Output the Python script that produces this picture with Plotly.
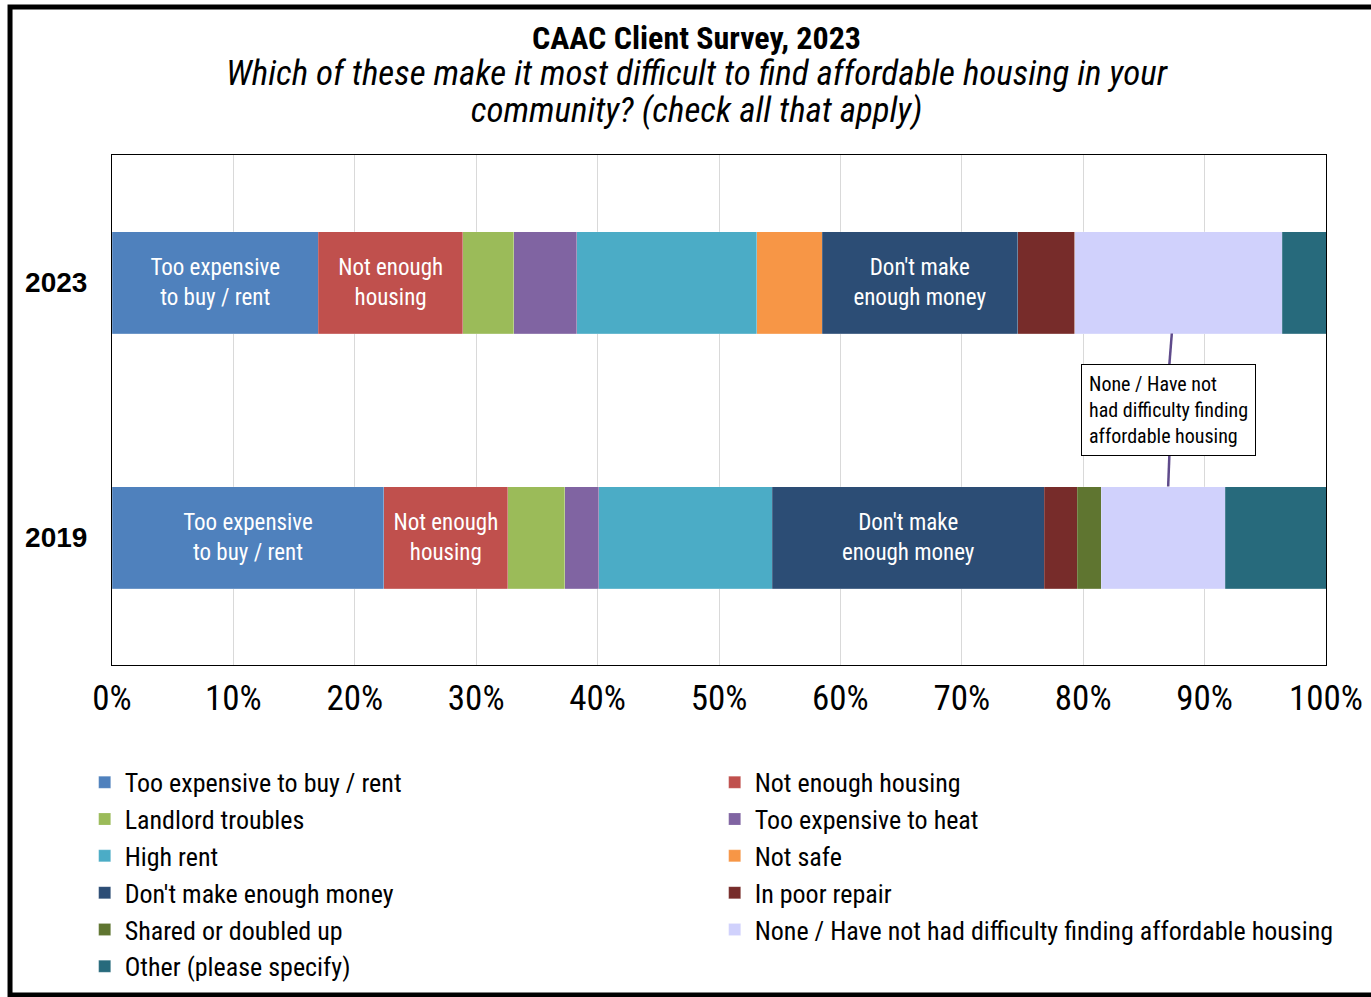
import plotly.graph_objects as go

years = ["2019", "2023"]
categories = [
    "Too expensive to buy / rent",
    "Not enough housing",
    "Landlord troubles",
    "Too expensive to heat",
    "High rent",
    "Not safe",
    "Don't make enough money",
    "In poor repair",
    "Shared or doubled up",
    "None / Have not had difficulty finding affordable housing",
    "Other (please specify)",
]
values_2019 = [22.4, 10.2, 4.7, 2.8, 14.3, 0.0, 22.4, 2.7, 2.0, 10.2, 8.3]
values_2023 = [17.0, 11.9, 4.2, 5.2, 14.8, 5.4, 16.1, 4.7, 0.0, 17.1, 3.6]
bar_labels = {
    "Too expensive to buy / rent": "Too expensive<br>to buy / rent",
    "Not enough housing": "Not enough<br>housing",
    "Don't make enough money": "Don't make<br>enough money",
}
colors = ["#4F81BD", "#C0504D", "#9BBB59", "#8064A2", "#4BACC6", "#F79646",
          "#2C4D75", "#772C2A", "#5F7530", "#D0D1FC", "#276A7C"]

title_main = "CAAC Client Survey, 2023"
title_sub = ["Which of these make it most difficult to find affordable housing in your",
             "community? (check all that apply)"]
callout_text = "None / Have not<br>had difficulty finding<br>affordable housing"

FONT = "Roboto Condensed, Liberation Sans Narrow, Arial Narrow, sans-serif"

fig = go.Figure()
for i, cat in enumerate(categories):
    lab = bar_labels.get(cat, "")
    fig.add_trace(go.Bar(
        name=cat,
        y=years,
        x=[values_2019[i], values_2023[i]],
        orientation="h",
        marker=dict(color=colors[i], line=dict(color="rgba(255,255,255,0.35)", width=0.5)),
        text=[lab, lab],
        textposition="inside",
        insidetextanchor="middle",
        constraintext="none",
        textfont=dict(color="white", size=23, family=FONT),
        hoverinfo="name+x",
    ))

# title block (one annotation, three lines)
title_html = ("<b><span style='font-size:32px'>" + title_main + "</span></b><br>"
              "<span style='font-size:35px'><i>" + title_sub[0] + "</i></span><br>"
              "<span style='font-size:35px'><i>" + title_sub[1] + "</i></span>")
fig.add_annotation(xref="paper", yref="paper", x=0.482, y=1.157, showarrow=False,
                   xanchor="center", yanchor="middle", align="center",
                   text=title_html,
                   font=dict(family=FONT, size=28, color="black"))

# callout for "None" segment
callout_x = 87.0
fig.add_annotation(
    x=callout_x, y=0.5, xref="x", yref="y",
    text=callout_text,
    showarrow=False, align="left",
    font=dict(family=FONT, size=20, color="black"),
    bgcolor="white", bordercolor="black", borderwidth=1, borderpad=7,
)
fig.add_shape(type="line", xref="x", yref="y", x0=callout_x + 0.1, x1=callout_x + 0.3,
              y0=0.68, y1=0.8, line=dict(color="#5F4B8B", width=2.5))
fig.add_shape(type="line", xref="x", yref="y", x0=callout_x, x1=callout_x + 0.1,
              y0=0.2, y1=0.325, line=dict(color="#5F4B8B", width=2.5))

# outer frame
fig.add_shape(type="rect", xref="paper", yref="paper",
              x0=-0.0840, x1=1.04, y0=-0.647, y1=1.290,
              line=dict(color="black", width=5), fillcolor="rgba(0,0,0,0)", layer="below")

fig.update_layout(
    width=1371, height=997,
    margin=dict(l=112, r=45, t=155, b=332, autoexpand=False),
    paper_bgcolor="white", plot_bgcolor="white",
    barmode="stack", bargap=0.6,
    font=dict(family=FONT, color="black"),
    xaxis=dict(
        range=[0, 100], dtick=10, ticksuffix="%",
        showgrid=True, gridcolor="#D9D9D9", gridwidth=1,
        showline=True, linecolor="black", linewidth=1, mirror=True,
        zeroline=False, ticks="", ticklabelstandoff=2,
        tickfont=dict(family=FONT, size=35, color="black"),
        fixedrange=True,
    ),
    yaxis=dict(
        type="category", categoryorder="array", categoryarray=years,
        range=[-0.5, 1.5],
        showline=True, linecolor="black", linewidth=1, mirror=True,
        ticks="", ticklabelstandoff=18,
        tickfont=dict(family="Liberation Sans, Arial, sans-serif", size=28, color="black", weight="bold"),
        fixedrange=True,
    ),
    legend=dict(
        orientation="h", x=-0.0225, xanchor="left", y=-0.184, yanchor="top",
        entrywidth=585, entrywidthmode="pixels",
        font=dict(family=FONT, size=26, color="black"),
        traceorder="normal", itemclick=False, itemdoubleclick=False,
    ),
    showlegend=True,
)

fig.write_html("out.html", config={"displayModeBar": False},
               post_script="document.body.style.margin='0px';")
